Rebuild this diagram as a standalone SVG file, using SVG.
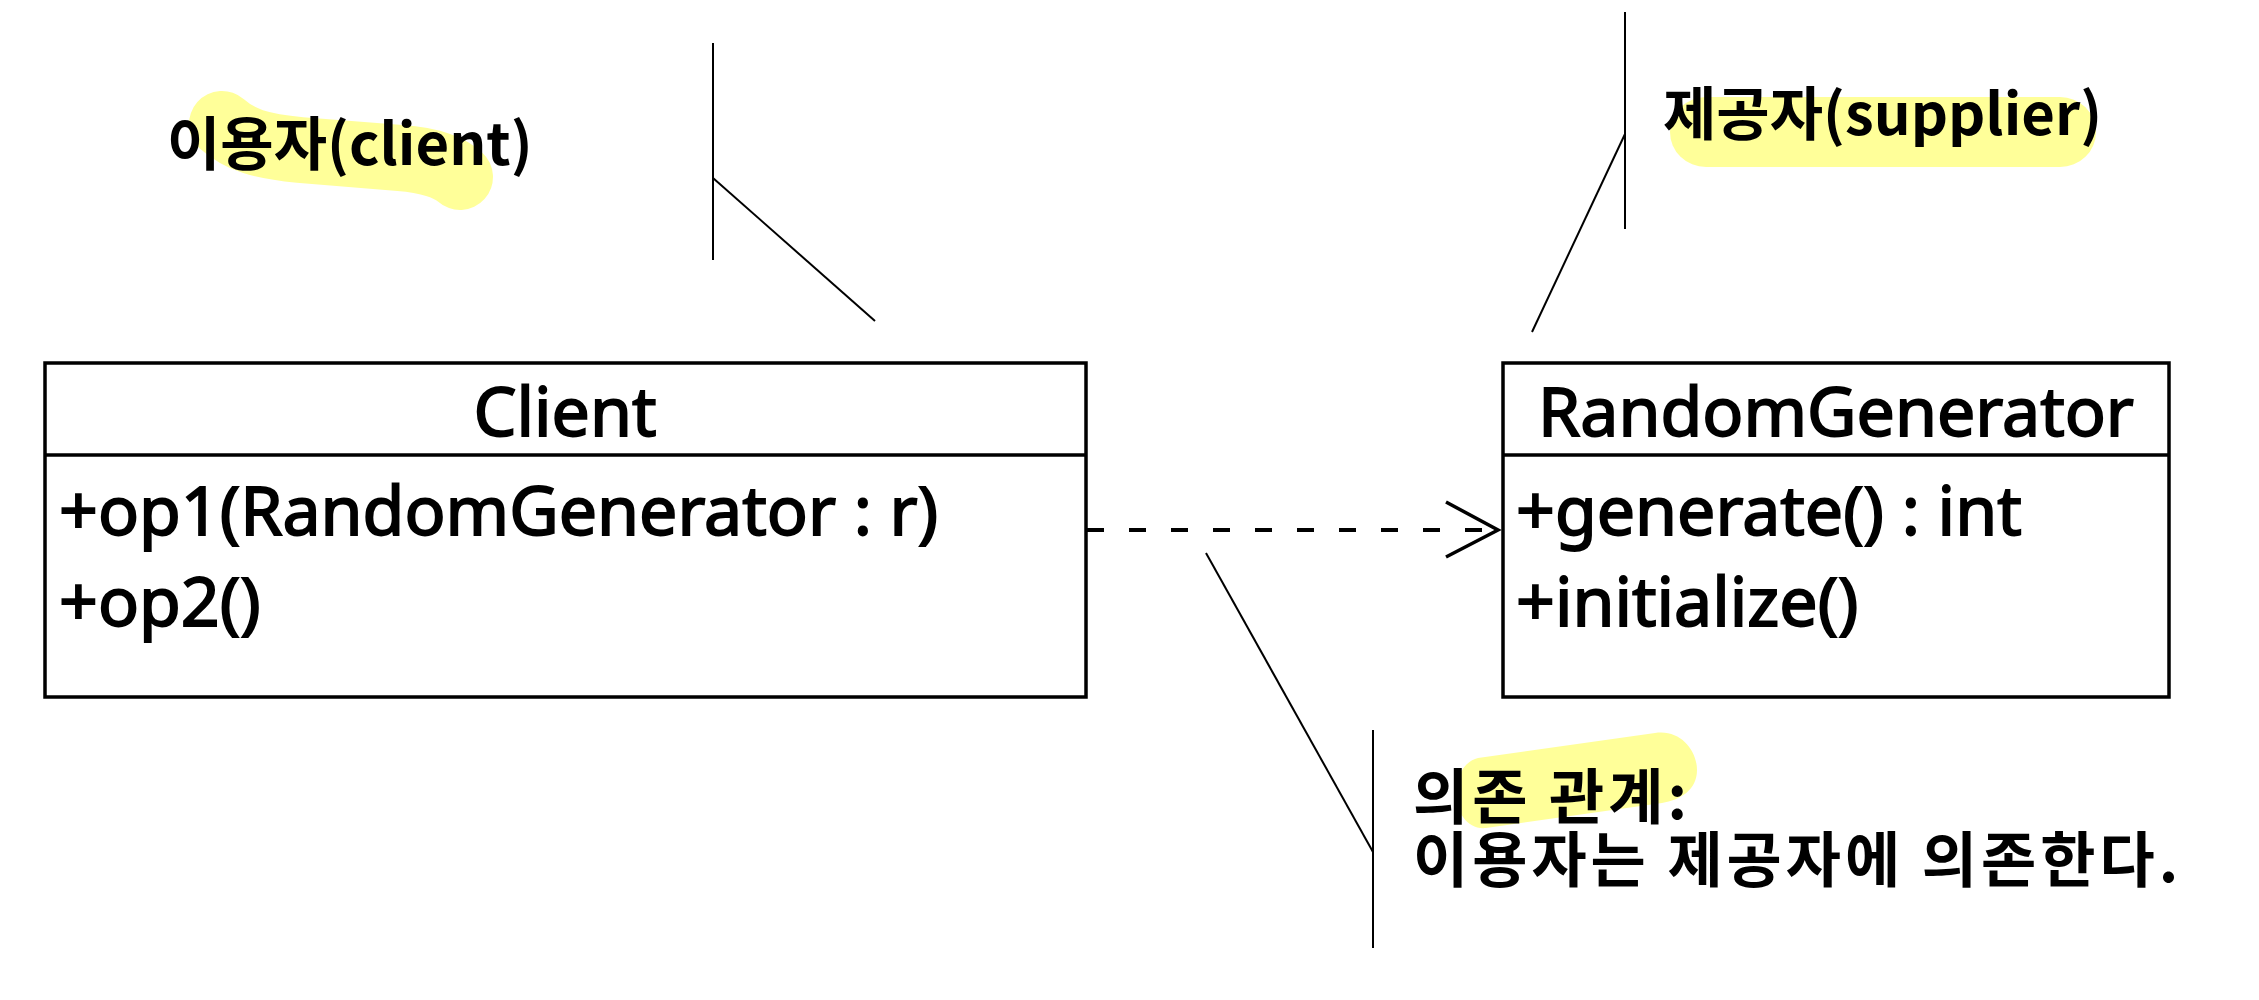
<svg xmlns="http://www.w3.org/2000/svg" width="2259" height="1000" viewBox="0 0 2259 1000">
<style>
.box{fill:#fff;stroke:#000;stroke-width:3.5}
.div{stroke:#000;stroke-width:3.5}
.cls{font-family:"Noto Sans","DejaVu Sans",sans-serif;font-size:68px;fill:#000;stroke:#000;stroke-width:1.8}
.note{font-family:"Noto Sans CJK KR","Noto Sans",sans-serif;font-size:58px;font-weight:bold;fill:#000}
.dep-note{font-size:60px;letter-spacing:4px}
.hl{fill:#ffff99;stroke:none}
.callout{stroke:#000;stroke-width:2;fill:none}
.dep{stroke:#000;stroke-width:4;stroke-dasharray:17 25;fill:none}
.head{stroke:#000;stroke-width:3.5;fill:none}
</style>
<rect width="2259" height="1000" fill="#fff"/>

<g id="note-client">
<path d="M222 124 C240 140 260 146 300 150 L400 158 C430 160 450 168 460 177" fill="none" stroke="#ffff99" stroke-width="66" stroke-linecap="round" stroke-linejoin="round"/>
<text class="note" x="167" y="165">이용자(client)</text>
</g>

<g id="note-supplier">
<rect class="hl" x="1670" y="97" width="426" height="70" rx="36" ry="35"/>
<text class="note" x="1663" y="135">제공자(supplier)</text>
</g>

<g id="note-dependency">
<path class="hl" d="M1478 758 L1655 733 C1680 729 1697 750 1697 770 C1697 790 1680 800 1662 803 L1486 828 C1468 830 1456 812 1456 795 C1456 775 1465 761 1478 758 Z"/>
<text class="note dep-note"><tspan x="1413" y="819">의존 관계:</tspan><tspan x="1413" y="882">이용자는 제공자에 의존한다.</tspan></text>
</g>

<g id="class-client">
<rect class="box" x="45" y="363" width="1041" height="334"/>
<line class="div" x1="45" y1="455" x2="1086" y2="455"/>
<text class="cls" x="565" y="436" text-anchor="middle">Client</text>
<text class="cls" x="59" y="535">+op1(RandomGenerator : r)</text>
<text class="cls" x="59" y="626">+op2()</text>
</g>

<g id="class-randomgenerator">
<rect class="box" x="1503" y="363" width="666" height="334"/>
<line class="div" x1="1503" y1="455" x2="2169" y2="455"/>
<text class="cls" x="1836" y="436" text-anchor="middle">RandomGenerator</text>
<text class="cls" x="1516" y="535">+generate() : int</text>
<text class="cls" x="1516" y="626">+initialize()</text>
</g>

<g id="connectors">
<line class="dep" x1="1087" y1="530" x2="1497" y2="530"/>
<polyline class="head" points="1446,502 1498,530 1446,557"/>
<line class="callout" x1="713" y1="43" x2="713" y2="260"/>
<line class="callout" x1="713" y1="178" x2="875" y2="321"/>
<line class="callout" x1="1625" y1="12" x2="1625" y2="229"/>
<line class="callout" x1="1625" y1="134" x2="1532" y2="332"/>
<line class="callout" x1="1373" y1="730" x2="1373" y2="948"/>
<line class="callout" x1="1373" y1="852" x2="1206" y2="553"/>
</g>
</svg>
